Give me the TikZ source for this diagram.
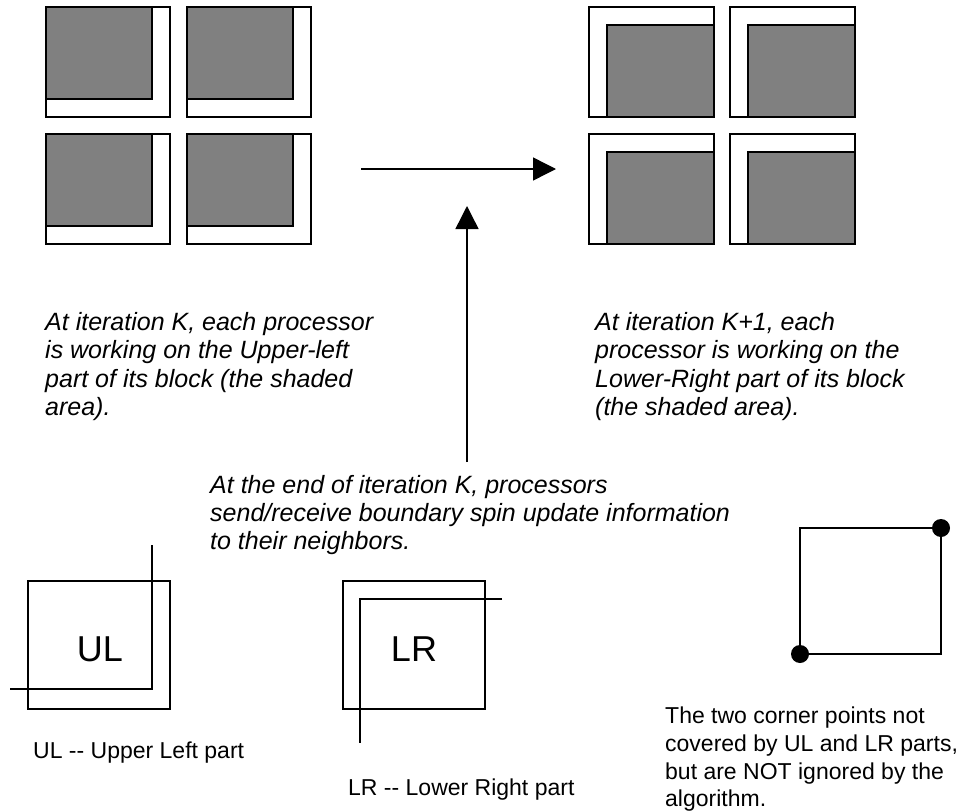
\documentclass[tikz,border=0pt]{standalone}
\usepackage{fontspec}
\setmainfont{Liberation Sans}
\usetikzlibrary{arrows.meta}
\definecolor{shadegray}{HTML}{808080}
\begin{document}
\begin{tikzpicture}[x=1pt,y=-1pt,
  cell/.style={draw=black,line width=1.5pt,fill=white},
  shaded/.style={draw=black,line width=1.5pt,fill=shadegray},
  frame/.style={draw=black,line width=1.4pt},
  flow/.style={line width=1.4pt,-{Triangle[length=23pt,width=23pt]}},
  note/.style={font=\fontsize{25}{28}\selectfont\itshape,anchor=base west,inner sep=0pt},
  plain/.style={font=\fontsize{23}{28}\selectfont,anchor=base west,inner sep=0pt},
  big/.style={font=\fontsize{36}{40}\selectfont,anchor=base,inner sep=0pt},
  dot/.style={circle,fill=black,minimum size=18pt,inner sep=0pt}]
\useasboundingbox (0,0) rectangle (962,811);

% iteration K: upper-left part of every block shaded
\foreach \x/\y in {46/7,187/7,46/134,187/134}{
  \draw[cell] (\x,\y) rectangle ++(124,110);
  \draw[shaded] (\x,\y) rectangle ++(106,92);
}
% iteration K+1: lower-right part of every block shaded
\foreach \x/\y in {589/7,730/7,589/134,730/134}{
  \draw[cell] (\x,\y) rectangle ++(125,110);
  \draw[shaded] (\x+18,\y+18) rectangle (\x+125,\y+110);
}

% step from K to K+1, and the exchange between them
\coordinate (stepA) at (361,169);
\coordinate (stepB) at (556,169);
\draw[flow] (stepA) -- (stepB);
\coordinate (xchgA) at (467,462);
\coordinate (xchgB) at (467,206);
\draw[flow] (xchgA) -- (xchgB);

% captions
\node[note] (kA) at (45,330)   {At iteration K, each processor};
\node[note] (kB) at (45,358.5) {is working on the Upper-left};
\node[note] (kC) at (45,387)   {part of its block (the shaded};
\node[note] (kD) at (45,415.5) {area).};

\node[note] (nA) at (595,330)   {At iteration K+1, each};
\node[note] (nB) at (595,358.5) {processor is working on the};
\node[note] (nC) at (595,387)   {Lower-Right part of its block};
\node[note] (nD) at (595,415.5) {(the shaded area).};

\node[note] (eA) at (210,493) {At the end of iteration K, processors};
\node[note] (eB) at (210,521) {send/receive boundary spin update information};
\node[note] (eC) at (210,549) {to their neighbors.};

% UL part of a block
\draw[frame] (28,581) rectangle (170,709);
\draw[frame] (152,545) -- (152,689) -- (10,689);
\node[big] (ul) at (100,661) {UL};
\node[plain] (ulcap) at (33,758) {UL -{}- Upper Left part};

% LR part of a block
\draw[frame] (343,581) rectangle (485,709);
\draw[frame] (502,599) -- (360,599) -- (360,743);
\node[big] (lr) at (414,661) {LR};
\node[plain] (lrcap) at (348,795) {LR -{}- Lower Right part};

% the two corner points left out of both parts
\draw[frame] (800,528) rectangle (941,654);
\node[dot] (cornerA) at (800,654) {};
\node[dot] (cornerB) at (941,528) {};
\node[plain] (cA) at (665,723) {The two corner points not};
\node[plain] (cB) at (665,751) {covered by UL and LR parts,};
\node[plain] (cC) at (665,779) {but are NOT ignored by the};
\node[plain] (cD) at (665,806) {algorithm.};
\end{tikzpicture}
\end{document}
